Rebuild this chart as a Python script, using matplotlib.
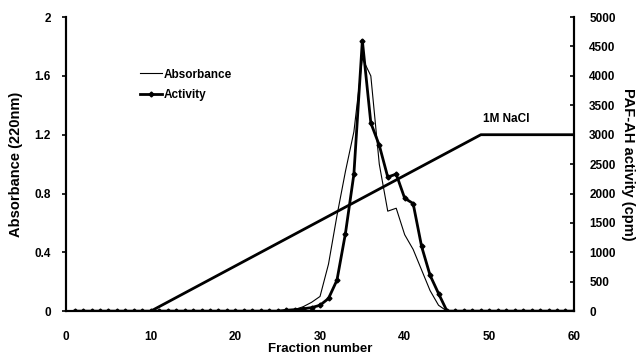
import matplotlib
matplotlib.use("Agg")
import numpy as np
import matplotlib.pyplot as plt

plt.rcParams['font.family'] = ['Liberation Sans', 'DejaVu Sans']
plt.rcParams['font.weight'] = 'bold'

fractions = np.arange(1, 61)

absorbance = [0] * 25 + [0.005, 0.01, 0.03, 0.06, 0.10, 0.32, 0.65, 0.95, 1.22, 1.72,
                         1.60, 1.00, 0.68, 0.70, 0.52, 0.42, 0.28, 0.14, 0.04, 0.0] + [0] * 15

activity = [0] * 25 + [15, 25, 40, 60, 100, 216, 527, 1320, 2330, 4600,
                       3200, 2820, 2280, 2330, 1920, 1830, 1100, 610, 300, 0] + [0] * 15

nacl_x = [10, 49, 60]
nacl_y = [0, 1.2, 1.2]

fig = plt.figure(figsize=(6.42, 3.56), dpi=100)
ax = fig.add_axes([0.103, 0.126, 0.791, 0.826])
ax2 = ax.twinx()

ax.plot(fractions, absorbance, color='black', lw=0.8, label='Absorbance')
ax.plot(nacl_x, nacl_y, color='black', lw=2.0)
ax2.plot(fractions, activity, color='black', lw=2.0, marker='D', ms=2.5,
         label='Activity')

ax.set_xlim(0, 60)
ax.set_ylim(0, 2)
ax2.set_ylim(0, 5000)
ax.set_xticks(np.arange(0, 61, 10))
ax.set_yticks([0, 0.4, 0.8, 1.2, 1.6, 2])
ax.set_yticklabels(['0', '0.4', '0.8', '1.2', '1.6', '2'])
ax2.set_yticks(np.arange(0, 5001, 500))

for a in (ax, ax2):
    a.spines['top'].set_visible(False)
    a.spines['left'].set_linewidth(1.5)
    a.spines['right'].set_linewidth(1.5)
    a.spines['bottom'].set_linewidth(1.5)
    a.tick_params(labelsize=8.5, width=1.2, length=3)
ax.tick_params(axis='x', length=0, pad=14)
ax.tick_params(axis='y', direction='out', pad=8)
ax2.tick_params(axis='y', direction='in', pad=11)

ax.set_xlabel('Fraction number', fontsize=9.5, fontweight='bold', labelpad=0)
ax.set_ylabel('Absorbance (220nm)', fontsize=10.5, fontweight='bold', labelpad=8)
ax2.set_ylabel('PAF-AH activity (cpm)', fontsize=10.5, fontweight='bold',
               rotation=270, labelpad=14)

ax.text(52, 1.31, '1M NaCl', fontsize=8.5, fontweight='bold', ha='center', va='center')

h1, l1 = ax.get_legend_handles_labels()
h2, l2 = ax2.get_legend_handles_labels()
ax.legend(h1 + h2, l1 + l2, loc='upper left', bbox_to_anchor=(0.145, 0.825),
          frameon=False, fontsize=8.5, handlelength=1.9, handletextpad=0.1,
          labelspacing=0.75, borderaxespad=0, borderpad=0)

fig.savefig('out.png', dpi=100)
